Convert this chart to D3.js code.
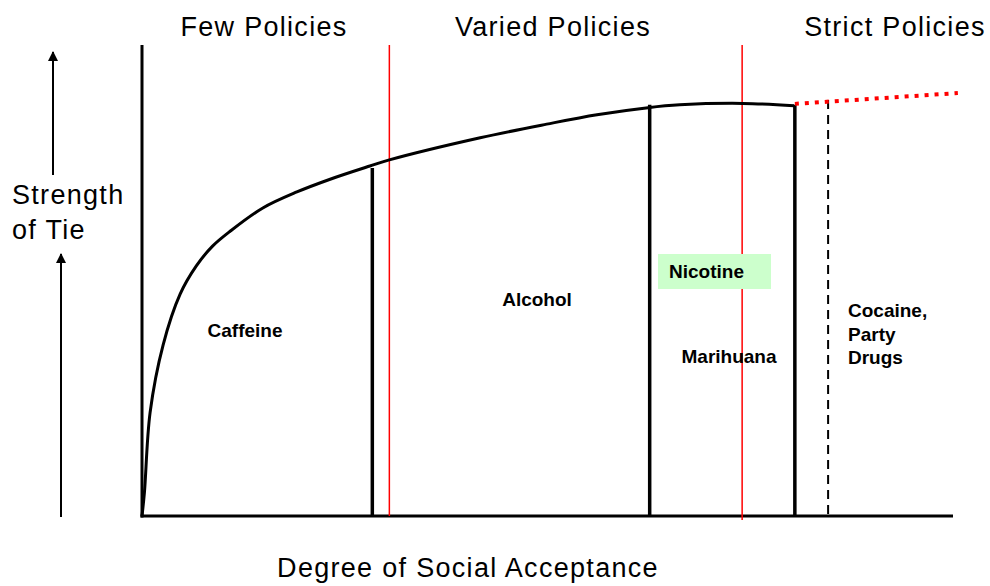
<!DOCTYPE html>
<meta charset="utf-8">
<style>
  body { margin: 0; background: #fff; }
  svg { display: block; }
  .title { font: 27px "Liberation Sans", Arial, sans-serif; letter-spacing: 1.3px; fill: #000; }
  .label { font: bold 19px "Liberation Sans", Arial, sans-serif; fill: #000; }
</style>
<body>
<svg width="990" height="586"></svg>
<script src="https://d3js.org/d3.v7.min.js"></script>
<script>
// curve: degree of social acceptance (0-100) vs strength of tie (0-100)
const acceptance = [0, 0.3, 1.0, 2.6, 4.7, 6.7, 8.7, 10.9, 14.9, 19.1, 23.2, 28.1, 30.5, 41.7, 49.9, 56.1, 62.4, 66.3, 74.1, 80.4];
const strength   = [0, 5.0, 22.0, 36.3, 47.1, 53.1, 57.3, 60.5, 65.4, 68.8, 71.5, 74.3, 75.6, 80.3, 83.2, 85.2, 86.7, 87.3, 87.6, 87.1];

// projected continuation (red dotted)
const projX = [80.5, 100.6];
const projY = [87.5, 89.8];

// substance boundaries
const barX   = [28.4, 62.6, 80.5];
const barTop = [73.9, 87.3, 87.3];
const dashedX = 84.6, dashedTop = 88.3;

// policy boundaries
const policyX = [30.5, 74.0];
const policyNames = ["Few Policies", "Varied Policies", "Strict Policies"];

const substances = ["Caffeine", "Alcohol", "Nicotine", "Marihuana", "Cocaine,|Party|Drugs"];

const svg = d3.select("svg");

const x = d3.scaleLinear().domain([0, 100]).range([142, 953]);
const y = d3.scaleLinear().domain([0, 100]).range([516, 45]);

// axes
svg.append("line")
  .attr("x1", x(0)).attr("x2", x(0)).attr("y1", y(0) + 1.5).attr("y2", y(100))
  .attr("stroke", "#000").attr("stroke-width", 3);
svg.append("line")
  .attr("x1", x(0) - 1.5).attr("x2", x(100)).attr("y1", y(0)).attr("y2", y(0))
  .attr("stroke", "#000").attr("stroke-width", 3);

// red policy lines
svg.append("g").selectAll("line")
  .data(policyX)
  .join("line")
  .attr("x1", d => x(d)).attr("x2", d => x(d))
  .attr("y1", y(100)).attr("y2", (d, i) => i === 1 ? y(0) + 4 : y(0))
  .attr("stroke", "#ff0000").attr("stroke-width", 1.5);

// substance bars
svg.append("g").selectAll("line")
  .data(barX)
  .join("line")
  .attr("x1", d => x(d)).attr("x2", d => x(d))
  .attr("y1", (d, i) => y(barTop[i])).attr("y2", y(0))
  .attr("stroke", "#000").attr("stroke-width", 3.5);

svg.append("line")
  .attr("x1", x(dashedX)).attr("x2", x(dashedX))
  .attr("y1", y(dashedTop)).attr("y2", y(0))
  .attr("stroke", "#000").attr("stroke-width", 2)
  .attr("stroke-dasharray", "9,6");

// main curve
const pts = acceptance.map((a, i) => [a, strength[i]]);
svg.append("path")
  .datum(pts)
  .attr("fill", "none")
  .attr("stroke", "#000")
  .attr("stroke-width", 3)
  .attr("d", d3.line().x(d => x(d[0])).y(d => y(d[1])).curve(d3.curveCatmullRom.alpha(0.5)));

// projection
svg.append("path")
  .datum(projX.map((a, i) => [a, projY[i]]))
  .attr("fill", "none")
  .attr("stroke", "#ff0000")
  .attr("stroke-width", 4)
  .attr("stroke-dasharray", "4,6")
  .attr("d", d3.line().x(d => x(d[0])).y(d => y(d[1])));

// policy titles
const titleX = [264, 553, 895];
svg.append("g").selectAll("text")
  .data(policyNames)
  .join("text")
  .attr("class", "title")
  .attr("x", (d, i) => titleX[i]).attr("y", 36)
  .attr("text-anchor", "middle")
  .text(d => d);

// axis titles
const yTitle = svg.append("text").attr("class", "title").attr("x", 12);
yTitle.append("tspan").attr("x", 12).attr("y", 204).text("Strength");
yTitle.append("tspan").attr("x", 12).attr("y", 239).text("of Tie");

svg.append("text").attr("class", "title")
  .attr("x", 468).attr("y", 577).attr("text-anchor", "middle")
  .text("Degree of Social Acceptance");

// arrows
svg.append("defs").append("marker")
  .attr("id", "head")
  .attr("viewBox", "0 0 10 10")
  .attr("refX", 9).attr("refY", 5)
  .attr("markerWidth", 5).attr("markerHeight", 5)
  .attr("markerUnits", "strokeWidth")
  .attr("orient", "auto")
  .append("path").attr("d", "M0,0L10,5L0,10Z").attr("fill", "#000");

svg.append("line")
  .attr("x1", 53).attr("x2", 53).attr("y1", 175).attr("y2", 52)
  .attr("stroke", "#000").attr("stroke-width", 2).attr("marker-end", "url(#head)");
svg.append("line")
  .attr("x1", 61).attr("x2", 61).attr("y1", 517).attr("y2", 254)
  .attr("stroke", "#000").attr("stroke-width", 2).attr("marker-end", "url(#head)");

// nicotine highlight
svg.append("rect")
  .attr("x", 658).attr("y", 254).attr("width", 113).attr("height", 35)
  .attr("fill", "#ccffcc");

// substance labels
const labelPos = [
  { x: 245, y: 337, anchor: "middle" },
  { x: 537, y: 306, anchor: "middle" },
  { x: 669, y: 278, anchor: "start" },
  { x: 729, y: 363, anchor: "middle" },
  { x: 848, y: 317, anchor: "start" }
];
substances.forEach((s, i) => {
  const p = labelPos[i];
  const t = svg.append("text").attr("class", "label")
    .attr("text-anchor", p.anchor);
  s.split("|").forEach((line, j) => {
    t.append("tspan").attr("x", p.x).attr("y", p.y + j * 23.5).text(line);
  });
});
</script>
</body>
